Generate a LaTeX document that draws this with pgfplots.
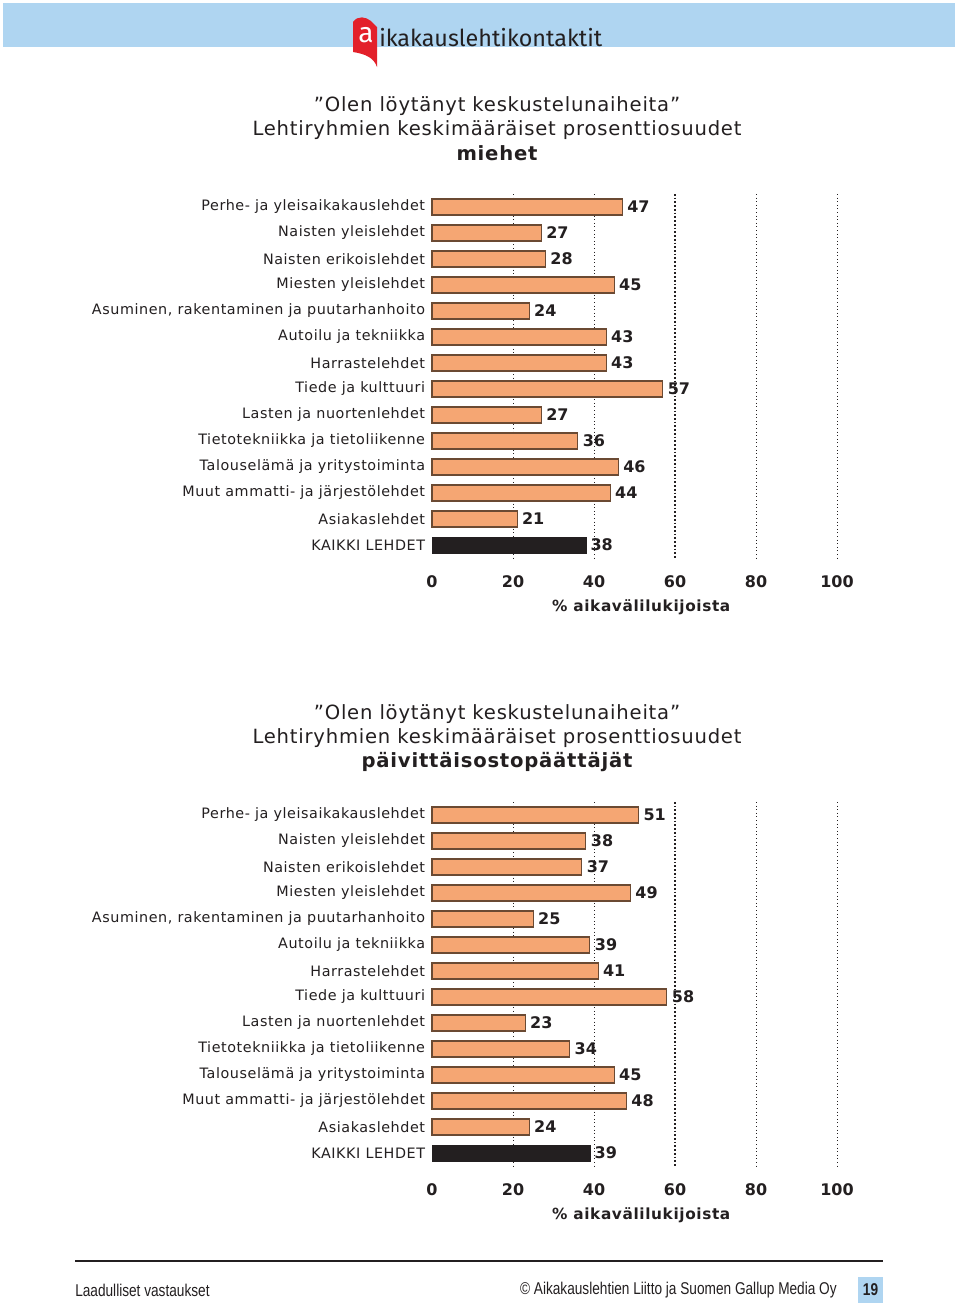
\documentclass[border=0pt]{standalone}
\usepackage{pgfplots}
\pgfplotsset{compat=1.18}
\usepackage{fontspec}
\setmainfont{DejaVu Sans}
\newfontfamily\lab{DejaVu Sans}[LetterSpace=4]
\newfontfamily\narrow{Liberation Sans}[FakeStretch=0.8]
\newfontfamily\logofont{Fira Sans}
\definecolor{barfill}{HTML}{F5A673}
\definecolor{barline}{HTML}{6B4A33}
\definecolor{dark}{HTML}{231F20}
\definecolor{hdr}{HTML}{AFD5F1}
\definecolor{logored}{HTML}{E3202A}

\pgfplotstableread{
y v
0 47
1 27
2 28
3 45
4 24
5 43
6 43
7 57
8 27
9 36
10 46
11 44
12 21
}\men
\pgfplotstableread{
y v
13 38
}\menall
\pgfplotstableread{
y v
0 51
1 38
2 37
3 49
4 25
5 39
6 41
7 58
8 23
9 34
10 45
11 48
12 24
}\pop
\pgfplotstableread{
y v
13 39
}\popall

\pgfplotsset{
  mybars/.style={
    scale only axis,
    width=303.75pt, height=273pt,
    anchor=north west,
    xmin=0, xmax=100, ymin=-0.5, ymax=13.5, y dir=reverse,
    axis line style={draw=none},
    xtick={0,20,40,60,80,100},
    ytick={0,...,13},
    major tick length=0pt,
    tick style={draw=none},
    yticklabels={Perhe- ja yleisaikakauslehdet,Naisten yleislehdet,Naisten erikoislehdet,Miesten yleislehdet,{Asuminen, rakentaminen ja puutarhanhoito},Autoilu ja tekniikka,Harrastelehdet,Tiede ja kulttuuri,Lasten ja nuortenlehdet,Tietotekniikka ja tietoliikenne,Talouselämä ja yritystoiminta,Muut ammatti- ja järjestölehdet,Asiakaslehdet,KAIKKI LEHDET},
    yticklabel style={font=\lab\fontsize{10.75}{11}\selectfont, text=dark, inner sep=1pt, xshift=-4pt},
    xticklabel style={font=\bfseries\fontsize{12}{12}\selectfont, text=dark, yshift=-10pt},
    /pgf/number format/assume math mode=true,
    xlabel={\% aikavälilukijoista},
    xlabel style={font=\bfseries\lab\fontsize{11.5}{12}\selectfont, text=dark, yshift=-1.5pt, xshift=5pt},
    clip=false,
  },
  grid/.style={dotted, line width=0.7pt, dark},
  gridb/.style={line width=1.3pt, dark, dash pattern=on 1.3pt off 1.5pt},
  ob/.style={xbar, bar shift=0pt, bar width=12pt, fill=barfill, draw=barline, line width=0.8pt,
    nodes near coords, every node near coord/.append style={font=\bfseries\fontsize{12}{12}\selectfont, text=dark, anchor=west, xshift=0pt}},
  kb/.style={xbar, bar shift=0pt, bar width=12pt, fill=dark, draw=dark,
    nodes near coords, every node near coord/.append style={font=\bfseries\fontsize{12}{12}\selectfont, text=dark, anchor=west, xshift=0pt}},
}

\begin{document}
\begin{tikzpicture}
\begin{scope}[x=0.75pt, y=-0.75pt]
\useasboundingbox[fill=white] (0,0) rectangle (960,1304);
% header
\fill[hdr] (3,3) rectangle (955,47);
\fill[logored] (353,22) .. controls (358,15) and (366,17) .. (371,21) -- (377,27) -- (377,67) .. controls (374,58) and (366,54) .. (353,52) -- cycle;
\node[anchor=center, text=white, font=\logofont\fontsize{21}{21}\selectfont] at (366,35) {a};
\node[anchor=base west, text=dark, font=\logofont\fontsize{17.5}{18}\selectfont, inner sep=0pt] at (379,46) {ikakauslehtikontaktit};

% titles
\node[font=\lab\fontsize{14.7}{15}\selectfont, text=dark] at (497,106) {”Olen löytänyt keskustelunaiheita”};
\node[font=\lab\fontsize{14.7}{15}\selectfont, text=dark] at (497,130) {Lehtiryhmien keskimääräiset prosenttiosuudet};
\node[font=\bfseries\lab\fontsize{14.7}{15}\selectfont, text=dark] at (497,153) {miehet};
\node[font=\lab\fontsize{14.7}{15}\selectfont, text=dark] at (497,714) {”Olen löytänyt keskustelunaiheita”};
\node[font=\lab\fontsize{14.7}{15}\selectfont, text=dark] at (497,738) {Lehtiryhmien keskimääräiset prosenttiosuudet};
\node[font=\bfseries\lab\fontsize{14.7}{15}\selectfont, text=dark] at (497,762) {päivittäisostopäättäjät};

% footer
\draw[line width=1.5pt, dark] (75,1261) -- (883,1261);
\node[anchor=west, inner sep=0pt, font=\narrow\fontsize{12.8}{13}\selectfont, text=dark] at (75,1290) {Laadulliset vastaukset};
\node[anchor=east, inner sep=0pt, font=\narrow\fontsize{12.8}{13}\selectfont, text=dark] at (837,1290) {© Aikakauslehtien Liitto ja Suomen Gallup Media Oy};
\fill[hdr] (858,1277) rectangle (883,1303);
\node[font=\narrow\bfseries\fontsize{12.8}{13}\selectfont, text=dark] at (870.5,1290) {19};
\end{scope}

\begin{axis}[mybars, at={(324pt,-145.5pt)}]
\addplot[grid] coordinates {(20,-0.5) (20,13.5)};
\addplot[grid] coordinates {(40,-0.5) (40,13.5)};
\addplot[gridb] coordinates {(60,-0.5) (60,13.5)};
\addplot[grid] coordinates {(80,-0.5) (80,13.5)};
\addplot[grid] coordinates {(100,-0.5) (100,13.5)};
\addplot[ob] table[x=v, y=y] {\men};
\addplot[kb] table[x=v, y=y] {\menall};
\end{axis}

\begin{axis}[mybars, at={(324pt,-601.5pt)}]
\addplot[grid] coordinates {(20,-0.5) (20,13.5)};
\addplot[grid] coordinates {(40,-0.5) (40,13.5)};
\addplot[gridb] coordinates {(60,-0.5) (60,13.5)};
\addplot[grid] coordinates {(80,-0.5) (80,13.5)};
\addplot[grid] coordinates {(100,-0.5) (100,13.5)};
\addplot[ob] table[x=v, y=y] {\pop};
\addplot[kb] table[x=v, y=y] {\popall};
\end{axis}
\end{tikzpicture}
\end{document}
